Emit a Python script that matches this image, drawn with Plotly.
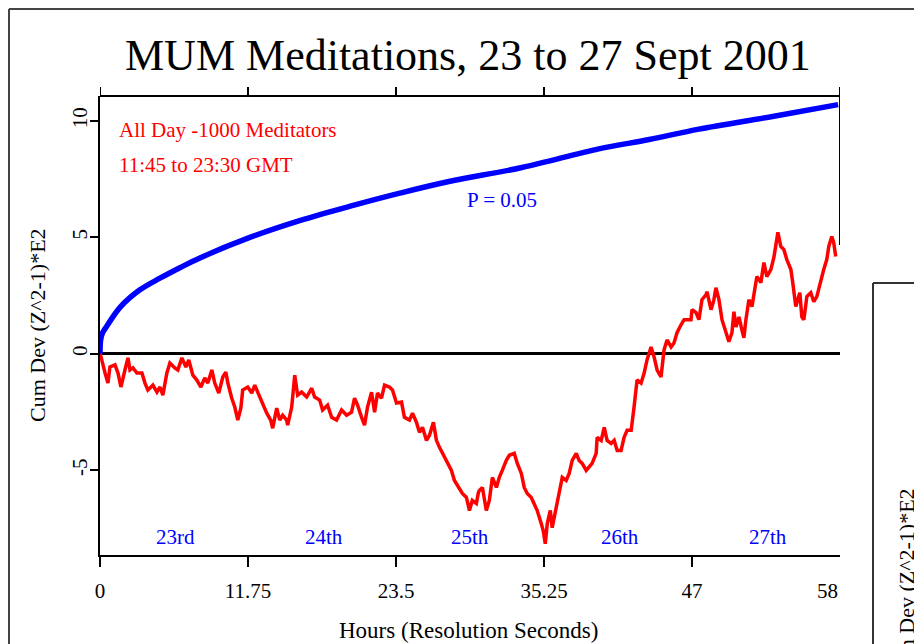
import plotly.graph_objects as go

# ---- data ----
red_hours = [0.0, 0.08, 0.40, 0.63, 0.79, 1.19, 1.43, 1.66, 1.98, 2.22, 2.38, 2.62, 2.93, 3.33, 3.57, 3.80,
             4.20, 4.52, 4.76, 4.99, 5.31, 5.55, 5.94, 6.18, 6.50, 6.82, 7.05, 7.37, 7.69, 8.01, 8.32, 8.56,
             8.88, 9.11, 9.43, 9.75, 9.99, 10.15, 10.46, 10.70, 10.94, 11.18, 11.33, 11.73, 12.05, 12.29,
             12.52, 12.84, 13.24, 13.55, 13.71, 14.03, 14.27, 14.50, 14.82, 14.90, 15.22, 15.46, 15.69,
             16.01, 16.41, 16.81, 17.04, 17.44, 17.67, 18.07, 18.39, 18.78, 19.18, 19.58, 19.97, 20.21,
             20.45, 20.77, 21.00, 21.24, 21.56, 21.80, 22.03, 22.35, 22.59, 22.98, 23.22, 23.54, 23.94,
             24.17, 24.57, 24.81, 25.12, 25.36, 25.60, 25.92, 26.16, 26.47, 26.71, 26.95, 27.19, 27.58,
             27.90, 28.14, 28.53, 28.77, 29.09, 29.33, 29.56, 29.88, 30.04, 30.12, 30.36, 30.67, 30.91,
             31.15, 31.47, 31.70, 31.94, 32.26, 32.50, 32.89, 33.13, 33.45, 33.68, 33.92, 34.24, 34.48,
             34.71, 35.03, 35.19, 35.35, 35.51, 35.75, 35.90, 36.22, 36.46, 36.70, 37.01, 37.25, 37.49,
             37.81, 38.04, 38.28, 38.60, 38.84, 39.07, 39.39, 39.47, 39.79, 40.03, 40.26, 40.58, 40.82,
             41.06, 41.37, 41.61, 41.85, 42.17, 42.40, 42.64, 42.96, 43.20, 43.43, 43.75, 43.99, 44.23,
             44.54, 44.78, 45.02, 45.34, 45.57, 45.81, 46.13, 46.37, 46.60, 46.92, 47.00, 47.32, 47.55,
             47.79, 48.11, 48.19, 48.51, 48.74, 48.90, 49.14, 49.38, 49.69, 49.93, 50.17, 50.33, 50.49,
             50.73, 50.96, 51.12, 51.28, 51.52, 51.76, 51.91, 52.15, 52.47, 52.71, 52.94, 53.26, 53.50,
             53.82, 54.05, 54.29, 54.53, 54.85, 55.00, 55.24, 55.56, 55.72, 55.88, 56.12, 56.43, 56.67,
             56.91, 57.22, 57.46, 57.70, 57.86, 58.10, 58.25, 58.41]
red_values = [0.0, -0.13, -0.82, -1.25, -0.56, -0.47, -0.82, -1.42, -0.69, -0.17, -0.69, -0.60, -0.82, -0.82,
              -1.25, -1.55, -1.34, -1.64, -1.42, -1.77, -0.82, -0.39, -0.60, -0.69, -0.17, -0.56, -0.26,
              -0.91, -1.12, -1.42, -1.03, -1.25, -0.69, -1.25, -1.68, -0.99, -0.78, -1.25, -1.90, -2.28,
              -2.84, -2.33, -1.55, -1.42, -1.68, -1.34, -1.64, -2.07, -2.54, -2.84, -3.19, -2.33, -2.84,
              -2.63, -2.84, -3.06, -2.28, -0.91, -1.77, -1.64, -1.85, -1.47, -1.85, -1.98, -2.41, -2.20,
              -2.72, -2.84, -2.41, -2.63, -2.50, -1.90, -2.20, -2.72, -3.06, -2.28, -1.64, -2.50, -1.68,
              -1.90, -1.34, -1.42, -1.55, -2.11, -2.07, -2.72, -2.84, -2.54, -2.93, -3.36, -3.15, -3.71,
              -3.49, -2.93, -3.71, -4.01, -4.27, -4.70, -5.00, -5.43, -5.78, -5.99, -6.16, -6.72, -6.29,
              -6.42, -5.95, -5.86, -5.73, -6.72, -6.29, -5.30, -5.73, -5.30, -5.00, -4.57, -4.35, -4.27,
              -4.70, -5.13, -5.73, -5.99, -6.16, -6.42, -6.72, -7.28, -7.59, -8.15, -7.28, -6.72, -7.46,
              -6.59, -5.86, -5.30, -5.43, -5.13, -4.57, -4.27, -4.57, -4.70, -5.00, -4.87, -4.70, -4.27,
              -3.58, -3.71, -3.15, -3.71, -3.84, -3.71, -4.14, -4.14, -3.58, -3.28, -3.28, -2.28, -1.12,
              -1.25, -0.82, -0.26, 0.30, -0.13, -0.69, -0.99, 0.17, 0.60, 0.30, 0.47, 0.91, 1.25, 1.47,
              1.47, 1.47, 1.90, 1.77, 1.47, 2.33, 2.54, 2.67, 1.90, 2.33, 2.84, 2.33, 1.47, 0.91, 0.52,
              0.91, 1.81, 1.16, 1.59, 1.03, 0.69, 1.47, 2.33, 2.03, 2.46, 3.32, 3.06, 3.92, 3.32, 3.62,
              4.14, 5.22, 4.61, 4.48, 4.05, 3.62, 3.06, 2.03, 2.63, 1.59, 1.47, 2.46, 2.63, 2.24, 2.46,
              3.19, 3.62, 4.05, 4.61, 5.04, 4.78, 4.18]

blue_hours = [0.0, 0.05, 0.2, 0.55, 1.59, 3.17, 4.76, 6.34, 7.93, 11.9, 15.85, 19.8, 23.8, 27.7, 33.5,
              39.6, 43.6, 47.55, 53.5, 58.6]
blue_values = [0.0, 0.6, 0.9, 1.2, 2.0, 2.75, 3.25, 3.7, 4.12, 5.0, 5.72, 6.33, 6.9, 7.4, 8.0,
               8.8, 9.2, 9.65, 10.2, 10.7]

x_tick_vals = [0, 11.75, 23.5, 35.25, 47]
x_tick_text = ["0", "11.75", "23.5", "35.25", "47"]
x_end_label = "58"
x_max = 58.75
top_tick_vals = [0, 11.75, 23.5, 35.25, 47, 58.75]

y_tick_vals = [10, 5, 0, -5]
y_tick_text = ["10", "5", "0", "-5"]
y_range = [-8.63, 11.07]
right_tick_vals = [10, 5]

day_labels = ["23rd", "24th", "25th", "26th", "27th"]
day_positions = [6.0, 17.8, 29.4, 41.3, 53.0]
day_label_level = -7.85

FONT = "Liberation Serif, Times New Roman, serif"
W, H = 922, 644
OFF = 8  # page body margin: positions below are in screenshot pixels
L, R, T, B = 100 - OFF, 840 - OFF, 96 - OFF, 555 - OFF


def px(x):
    return (x - OFF - L) / (R - L)


def py(y):
    return (B - (y - OFF)) / (B - T)


fig = go.Figure()
fig.add_trace(go.Scatter(x=blue_hours, y=blue_values, mode="lines",
                         line=dict(color="#0000ff", width=5.5, shape="spline", smoothing=1.0),
                         hoverinfo="skip"))
fig.add_trace(go.Scatter(x=red_hours, y=red_values, mode="lines", line=dict(color="#ff0000", width=3.5),
                         hoverinfo="skip"))

shapes = []
# top frame line with upward ticks
shapes.append(dict(type="line", xref="x", yref="paper", x0=0, x1=x_max, y0=1, y1=1,
                   line=dict(color="black", width=2)))
for v in top_tick_vals:
    shapes.append(dict(type="line", xref="x", yref="paper", x0=v, x1=v, ysizemode="pixel", yanchor=1,
                       y0=0, y1=9, line=dict(color="black", width=2)))
# right axis fragment
shapes.append(dict(type="line", xref="x", yref="paper", x0=x_max, x1=x_max, y0=py(245), y1=py(87),
                   line=dict(color="black", width=2)))
for v in right_tick_vals:
    shapes.append(dict(type="line", xref="x", yref="y", xsizemode="pixel", xanchor=x_max, x0=0, x1=8,
                       y0=v, y1=v, line=dict(color="black", width=2)))
# outer window frame
shapes.append(dict(type="line", xref="paper", yref="paper", x0=px(9), x1=px(9), y0=py(9), y1=py(700),
                   line=dict(color="#444", width=2)))
shapes.append(dict(type="line", xref="paper", yref="paper", x0=px(9), x1=px(960), y0=py(9), y1=py(9),
                   line=dict(color="#444", width=2)))
# second window in the lower right
shapes.append(dict(type="line", xref="paper", yref="paper", x0=px(873), x1=px(873), y0=py(283), y1=py(700),
                   line=dict(color="#333", width=2)))
shapes.append(dict(type="line", xref="paper", yref="paper", x0=px(873), x1=px(960), y0=py(283), y1=py(283),
                   line=dict(color="#333", width=2)))

TXT = 21
annotations = []
annotations.append(dict(text="All Day -1000 Meditators", x=1.35, y=9.6, xref="x", yref="y", xanchor="left",
                        yanchor="middle", showarrow=False, font=dict(family=FONT, size=TXT, color="#ff0000")))
annotations.append(dict(text="11:45 to 23:30 GMT", x=1.35, y=8.1, xref="x", yref="y", xanchor="left",
                        yanchor="middle", showarrow=False, font=dict(family=FONT, size=TXT, color="#ff0000")))
annotations.append(dict(text="P = 0.05", x=31.9, y=6.6, xref="x", yref="y", xanchor="center",
                        yanchor="middle", showarrow=False, font=dict(family=FONT, size=TXT, color="#0000ff")))
for lab, pos in zip(day_labels, day_positions):
    annotations.append(dict(text=lab, x=pos, y=day_label_level, xref="x", yref="y", xanchor="center",
                            yanchor="middle", showarrow=False, font=dict(family=FONT, size=TXT, color="#0000ff")))
annotations.append(dict(text=x_end_label, x=x_max, y=py(591), xref="x", yref="paper", xanchor="right",
                        yanchor="middle", showarrow=False, font=dict(family=FONT, size=21, color="black")))
annotations.append(dict(text="Hours (Resolution Seconds)", x=px(468), y=py(630), xref="paper", yref="paper",
                        xanchor="center", yanchor="middle", showarrow=False,
                        font=dict(family=FONT, size=23, color="black")))
annotations.append(dict(text="Cum Dev (Z^2-1)*E2", x=px(37), y=py(325), xref="paper", yref="paper",
                        xanchor="center", yanchor="middle", textangle=-90, showarrow=False,
                        font=dict(family=FONT, size=22, color="black")))
annotations.append(dict(text="Cum Dev (Z^2-1)*E2", x=px(906), y=py(585), xref="paper", yref="paper",
                        xanchor="center", yanchor="middle", textangle=-90, showarrow=False,
                        font=dict(family=FONT, size=22, color="black")))
annotations.append(dict(text="MUM Meditations, 23 to 27 Sept 2001", x=px(468), y=py(55), xref="paper",
                        yref="paper", xanchor="center", yanchor="middle", showarrow=False,
                        font=dict(family=FONT, size=44, color="black")))

fig.update_layout(
    width=W, height=H,
    margin=dict(l=L, r=W - R, t=T, b=H - B, pad=0),
    paper_bgcolor="white", plot_bgcolor="white",
    showlegend=False,
    font=dict(family=FONT, color="black"),
    shapes=shapes, annotations=annotations,
    xaxis=dict(range=[0, x_max], showline=True, linecolor="black", linewidth=2, ticks="outside",
               ticklen=10, tickwidth=2, tickcolor="black", tickvals=x_tick_vals, ticktext=x_tick_text,
               tickfont=dict(family=FONT, size=21, color="black"), showgrid=False, zeroline=False,
               ticklabelstandoff=6, fixedrange=True),
    yaxis=dict(range=y_range, showline=True, linecolor="black", linewidth=2, ticks="outside",
               ticklen=8, tickwidth=2, tickcolor="black", tickvals=y_tick_vals, ticktext=y_tick_text,
               tickangle=-90, tickfont=dict(family=FONT, size=21, color="black"), showgrid=False,
               zeroline=True, zerolinecolor="black", zerolinewidth=3, fixedrange=True,
               ticklabelstandoff=-5),
)

fig.write_html("out.html")
